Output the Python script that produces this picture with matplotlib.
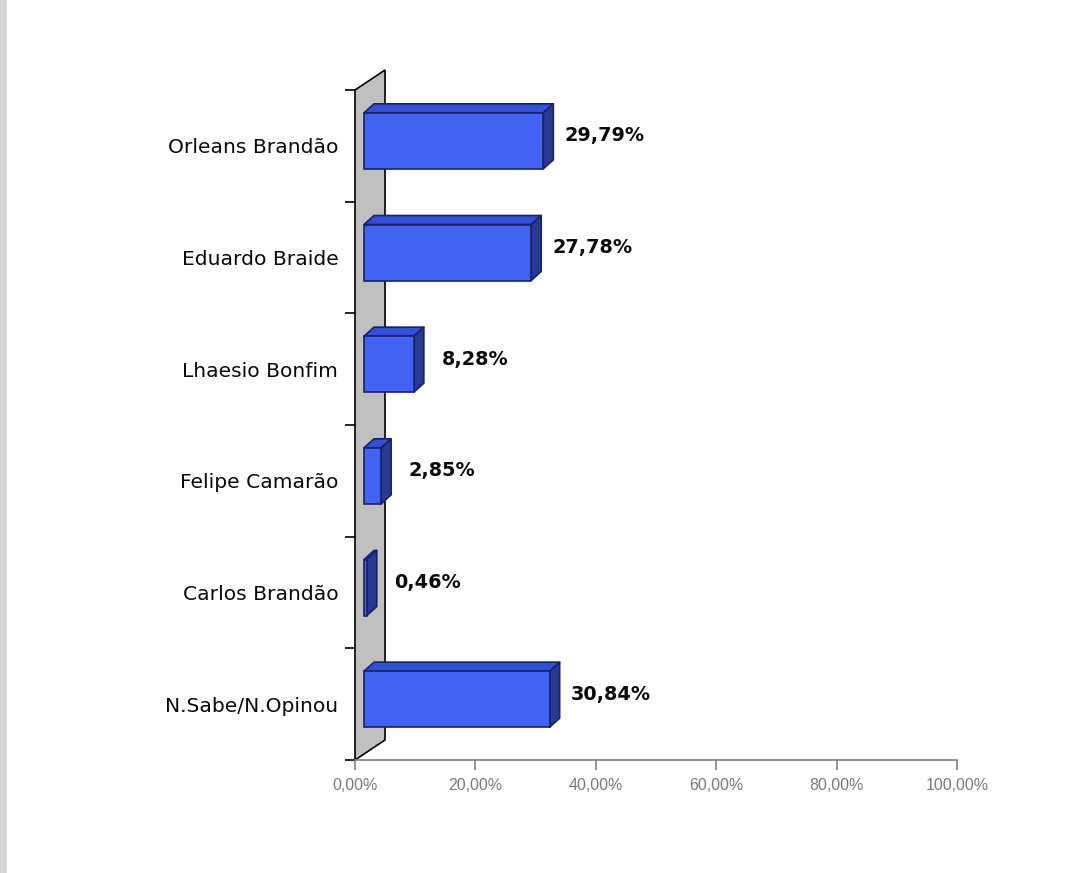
import matplotlib
matplotlib.use("Agg")
import matplotlib.pyplot as plt
from matplotlib.patches import Polygon, Rectangle

categories = ["Orleans Brandão", "Eduardo Braide", "Lhaesio Bonfim",
              "Felipe Camarão", "Carlos Brandão", "N.Sabe/N.Opinou"]
values = [29.79, 27.78, 8.28, 2.85, 0.46, 30.84]
value_labels = ["29,79%", "27,78%", "8,28%", "2,85%", "0,46%", "30,84%"]
xticks = [0, 20, 40, 60, 80, 100]
xtick_labels = ["0,00%", "20,00%", "40,00%", "60,00%", "80,00%", "100,00%"]

W, H = 1080, 873
fig = plt.figure(figsize=(W / 100, H / 100), dpi=100)
fig.patch.set_facecolor("white")
# screenshot edge strip
fig.patches.append(Rectangle((0, 0), 7 / W, 1, transform=fig.transFigure,
                             facecolor="#d6d6d6", edgecolor="none"))

ax_l, ax_r, ax_t, ax_b = 355, 957, 90, 760
ax = fig.add_axes([ax_l / W, (H - ax_b) / H, (ax_r - ax_l) / W, (ax_b - ax_t) / H])
ax.set_xlim(0, 100)
n = len(categories)
ax.set_ylim(0, n)

px_x = (ax_r - ax_l) / 100.0
px_y = (ax_b - ax_t) / n

# back wall
wdx, wdy = 30 / px_x, 20 / px_y
wall = Polygon([(0, 0), (wdx, wdy), (wdx, n + wdy), (0, n)], closed=True,
               facecolor="#c0c0c0", edgecolor="black", lw=1.2, clip_on=False, zorder=1)
ax.add_patch(wall)

# bars
x_off = 9 / px_x
y_off = 5 / px_y
bdx, bdy = 10 / px_x, 9 / px_y
bh = 56 / px_y
front_c, top_c, side_c, edge_c = "#4262F4", "#3450D6", "#283A92", "#18226A"
for i, (v, lab) in enumerate(zip(values, value_labels)):
    yc = n - i - 0.5 + y_off
    y0, y1 = yc - bh / 2, yc + bh / 2
    x0, x1 = x_off, x_off + v
    ax.add_patch(Polygon([(x0, y1), (x1, y1), (x1 + bdx, y1 + bdy), (x0 + bdx, y1 + bdy)],
                         closed=True, facecolor=top_c, edgecolor=edge_c, lw=1.2,
                         joinstyle="round", clip_on=False, zorder=3))
    ax.add_patch(Polygon([(x1, y0), (x1 + bdx, y0 + bdy), (x1 + bdx, y1 + bdy), (x1, y1)],
                         closed=True, facecolor=side_c, edgecolor=edge_c, lw=1.2,
                         joinstyle="round", clip_on=False, zorder=3))
    ax.add_patch(Rectangle((x0, y0), v, bh, facecolor=front_c, edgecolor=edge_c,
                           lw=1.2, clip_on=False, zorder=4))
    ax.text(x1 + 61 / px_x, n - i - 0.5 + 10 / px_y, lab, ha="center", va="center",
            fontsize=13.9, fontweight="bold", family="DejaVu Sans", color="#0a0a0a")

# spines
for s in ["top", "right", "left"]:
    ax.spines[s].set_visible(False)
ax.spines["bottom"].set_color("#808080")
ax.spines["bottom"].set_linewidth(1.2)
ax.set_facecolor("none")

ax.set_xticks(xticks)
ax.set_xticklabels(xtick_labels, family="Liberation Sans", fontsize=11.5, color="#7a7a7a")
ax.tick_params(axis="x", direction="out", length=7.2, width=1.2, color="#808080", pad=6)

ax.set_yticks(range(n + 1))
ax.set_yticklabels([""] * (n + 1))
ax.tick_params(axis="y", which="major", direction="out", length=7.2, width=1.2, color="black")
centers = [n - i - 0.5 for i in range(n)]
ax.set_yticks(centers, minor=True)
ax.set_yticklabels(categories, minor=True, fontsize=14.6, family="DejaVu Sans", color="#0a0a0a")
ax.tick_params(axis="y", which="minor", length=0, pad=12)

fig.savefig("out.png", dpi=100)
